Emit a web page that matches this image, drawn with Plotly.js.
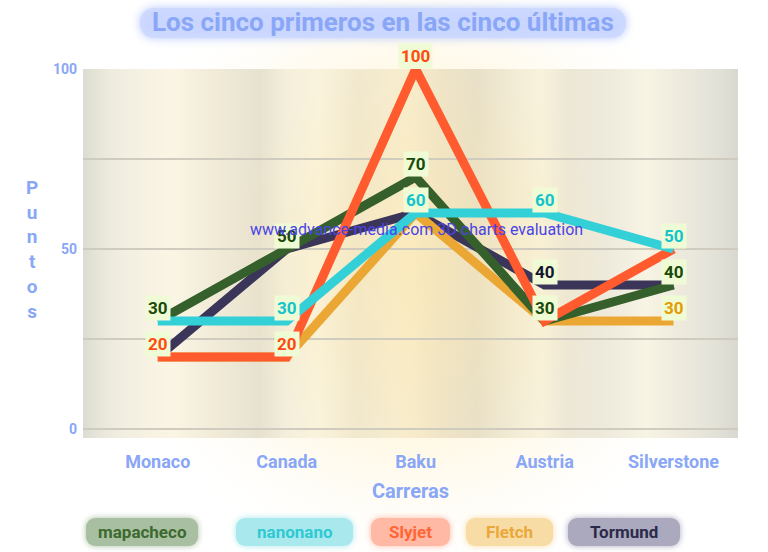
<!DOCTYPE html>
<html><head><meta charset="utf-8">
<script src="https://cdn.plot.ly/plotly-3.0.1.min.js"></script>
<style>html,body{margin:0;padding:0;background:#fff}#chart{width:768px;height:552px}</style>
</head><body><div id="chart"></div>
<script>
const races = ["Monaco", "Canada", "Baku", "Austria", "Silverstone"];
const seriesNames = ["mapacheco", "nanonano", "Slyjet", "Fletch", "Tormund"];
const mapacheco = [30, 50, 70, 30, 40];
const nanonano = [30, 30, 60, 60, 50];
const slyjet = [20, 20, 100, 30, 50];
const fletch = [20, 20, 60, 30, 30];
const tormund = [20, 50, 60, 40, 40];
const yTicks = [0, 25, 50, 75, 100];
const yTickText = ["0", "", "50", "", "100"];

const values = [mapacheco, nanonano, slyjet, fletch, tormund];
const lineColors = ["#355f2b", "#33d0d8", "#ff5b2e", "#eba733", "#3b3559"];
const labelColors = ["#1a4a0a", "#12c4cc", "#ff4a10", "#e59c00", "#16142e"];
const legendText = ["#3c6a2e", "#2fc9d2", "#ff6535", "#eaa83a", "#2c2a4a"];
const legendBg = ["#a9bfa2", "#a9e9ee", "#ffb9a4", "#f8dca6", "#aaa9bd"];
const drawOrder = [4, 3, 0, 2, 1];

const W = 768, H = 552, L = 83, R = 30, T = 69, B = 114;
const pw = W - L - R, ph = H - T - B;
const px = v => (v - L) / pw;
const py = v => 1 - (v - T) / ph;

// background decoration
const cv = document.createElement('canvas'); cv.width = W; cv.height = H;
const cx = cv.getContext('2d');
const rg = cx.createRadialGradient(416, 260, 10, 416, 260, 330);
rg.addColorStop(0, 'rgba(255,236,180,0.9)');
rg.addColorStop(0.6, 'rgba(255,244,215,0.5)');
rg.addColorStop(1, 'rgba(255,255,255,0)');
cx.fillStyle = rg; cx.fillRect(0, 0, W, H);
const lg = cx.createLinearGradient(L, 0, W - R, 0);
const stops = [[0,'#dcdcd2'],[0.02,'#e6e4d8'],[0.05,'#f0ede0'],[0.1,'#f7f2e2'],[0.14,'#faf5e4'],[0.2,'#f1ebd8'],[0.27,'#e7e2d0'],[0.31,'#f4efdc'],[0.36,'#faf3dc'],[0.42,'#f1e8cf'],[0.47,'#f6ecd0'],[0.5,'#f8eccc'],[0.55,'#efe4c8'],[0.6,'#e8e0c8'],[0.66,'#f3ecd6'],[0.7,'#f8f2dc'],[0.74,'#ede7d6'],[0.8,'#eeeadc'],[0.86,'#f8f4e4'],[0.92,'#ece9dc'],[0.97,'#e2e1d8'],[1,'#d8d8d0']];
stops.forEach(s => lg.addColorStop(s[0], s[1]));
cx.fillStyle = lg; cx.fillRect(L, T, pw, ph);
const rg2 = cx.createRadialGradient(416, 260, 5, 416, 260, 200);
rg2.addColorStop(0, 'rgba(255,230,160,0.35)');
rg2.addColorStop(1, 'rgba(255,230,160,0)');
cx.fillStyle = rg2; cx.fillRect(L, T, pw, ph);
function rrect(x, y, w, h, r) {
  cx.beginPath();
  cx.moveTo(x + r, y); cx.lineTo(x + w - r, y); cx.arcTo(x + w, y, x + w, y + r, r);
  cx.lineTo(x + w, y + h - r); cx.arcTo(x + w, y + h, x + w - r, y + h, r);
  cx.lineTo(x + r, y + h); cx.arcTo(x, y + h, x, y + h - r, r);
  cx.lineTo(x, y + r); cx.arcTo(x, y, x + r, y, r); cx.closePath(); cx.fill();
}
// soft glow behind title
cx.save();
cx.shadowColor = 'rgba(160,185,255,0.9)'; cx.shadowBlur = 10;
cx.fillStyle = 'rgba(205,216,255,0.85)';
rrect(140, 8, 486, 30, 14);
cx.restore();
// soft rounded legend pills
const legBoxes = [[86, 112], [236, 117], [371, 79], [466, 87], [568, 112]];
legBoxes.forEach((b, i) => {
  cx.save();
  cx.shadowColor = legendBg[i]; cx.shadowBlur = 6;
  cx.fillStyle = legendBg[i];
  rrect(b[0], 518, b[1], 28, 9);
  cx.restore();
});
const bgUrl = cv.toDataURL('image/png');

const traces = drawOrder.map(i => ({
  type: 'scatter', mode: 'lines', name: seriesNames[i],
  x: races, y: values[i],
  line: {color: lineColors[i], width: 9},
  hoverinfo: 'skip', showlegend: false
}));

const annotations = [];
// data labels: first series holding each value at each category
races.forEach((rc, ci) => {
  const seen = new Set();
  values.forEach((vals, si) => {
    const v = vals[ci];
    if (seen.has(v)) return;
    seen.add(v);
    annotations.push({x: rc, y: v, xref: 'x', yref: 'y', text: String(v), showarrow: false,
      xanchor: 'center', yanchor: 'middle',
      yshift: 13, font: {family: 'Roboto', size: 17, color: labelColors[si], weight: 'bold'},
      bgcolor: '#effbd5', borderpad: 2});
  });
});
// title
annotations.push({xref: 'paper', yref: 'paper', x: px(383), y: py(22), xanchor: 'center', yanchor: 'middle',
  text: 'Los cinco primeros en las cinco últimas',
  showarrow: false, font: {family: 'Roboto', size: 26, color: '#89a6f7', weight: 'bold'}});
// y title stacked letters
annotations.push({xref: 'paper', yref: 'paper', x: px(32), y: py(249), xanchor: 'center', yanchor: 'middle',
  text: 'P<br>u<br>n<br>t<br>o<br>s',
  showarrow: false, font: {family: 'Roboto', size: 19, color: '#89a6f7', weight: 'bold'}, align: 'center'});
// watermark
annotations.push({xref: 'paper', yref: 'paper', x: px(416), y: py(229), xanchor: 'center', yanchor: 'middle',
  text: 'www.advance-media.com 3D charts evaluation',
  showarrow: false, font: {family: 'Roboto', size: 16, color: '#4a44e6'}});
// legend text (pills drawn in background)
seriesNames.forEach((n, i) => {
  const b = legBoxes[i];
  annotations.push({xref: 'paper', yref: 'paper', x: px(b[0] + b[1] / 2), y: py(532), xanchor: 'center', yanchor: 'middle',
    text: n, showarrow: false, font: {family: 'Roboto', size: 17, color: legendText[i], weight: 'bold'}});
});

const layout = {
  width: W, height: H,
  margin: {l: L, r: R, t: T, b: B},
  paper_bgcolor: '#ffffff', plot_bgcolor: 'rgba(0,0,0,0)',
  showlegend: false,
  images: [{source: bgUrl, xref: 'paper', yref: 'paper', x: -L / pw, y: 1 + T / ph, sizex: W / pw, sizey: H / ph,
    sizing: 'stretch', layer: 'below', xanchor: 'left', yanchor: 'top'}],
  xaxis: {type: 'category', range: [-0.58, 4.5], showgrid: false, zeroline: false, showline: false, ticks: '',
    ticklabelstandoff: 11,
    tickfont: {family: 'Roboto', size: 18, color: '#89a6f7', weight: 'bold'},
    title: {text: 'Carreras', font: {family: 'Roboto', size: 20, color: '#89a6f7', weight: 'bold'}, standoff: 12}},
  yaxis: {range: [-2.5, 100], tickvals: yTicks, ticktext: yTickText, showgrid: true, gridcolor: '#cfcbbf', gridwidth: 1.5,
    zeroline: false, showline: false, ticks: '', ticklabelstandoff: 5,
    tickfont: {family: 'Roboto', size: 14, color: '#89a6f7', weight: 'bold'}},
  annotations: annotations
};
Plotly.newPlot('chart', traces, layout, {displayModeBar: false, staticPlot: true});
</script></body></html>
